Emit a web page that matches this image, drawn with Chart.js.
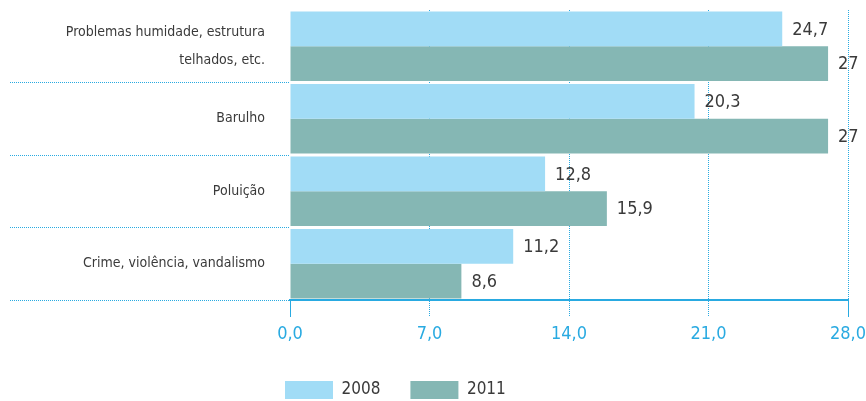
<!DOCTYPE html>
<html>
<head>
<meta charset="utf-8">
<script src="https://cdn.jsdelivr.net/npm/chart.js@4/dist/chart.umd.min.js"></script>
<style>
html,body{margin:0;padding:0;background:#fff;}
#wrap{position:relative;width:866px;height:401px;}
</style>
</head>
<body>
<div id="wrap"><canvas id="c"></canvas></div>
<script>
const categories = [
  ["Problemas humidade, estrutura", "telhados, etc."],
  "Barulho",
  "Poluição",
  "Crime, violência, vandalismo"
];
const seriesNames = ["2008", "2011"];
const values2008 = [24.7, 20.3, 12.8, 11.2];
const values2011 = [27, 27, 15.9, 8.6];
const axisTicks = [0, 7, 14, 21, 28];

const FONT = "'DejaVu Sans Condensed', 'Liberation Sans Narrow', 'Roboto', sans-serif";
const BLUE = '#29aae1';
const TEXT = '#3a3a3a';

function fmt(v) {
  return Number.isInteger(v) ? String(v) : v.toFixed(1).replace('.', ',');
}

const valueLabels = {
  id: 'valueLabels',
  afterDatasetsDraw(chart) {
    const ctx = chart.ctx;
    ctx.save();
    ctx.font = "18px " + FONT;
    ctx.fillStyle = TEXT;
    ctx.textAlign = 'left';
    ctx.textBaseline = 'middle';
    chart.data.datasets.forEach((ds, di) => {
      const meta = chart.getDatasetMeta(di);
      meta.data.forEach((bar, i) => {
        ctx.fillText(fmt(ds.data[i]), bar.x + 10, bar.y + 1);
      });
    });
    ctx.restore();
  }
};

const legendPlace = {
  id: 'legendPlace',
  afterLayout(chart) {
    const lg = chart.legend;
    if (!lg) return;
    const pad = lg.options.labels.padding;
    const h = lg.height;
    lg.left = 285 - pad;
    lg.right = lg.left + 500;
    lg.top = 381 - pad;
    lg.bottom = lg.top + h;
  }
};

new Chart(document.getElementById('c'), {
  type: 'bar',
  data: {
    labels: categories,
    datasets: [
      { label: seriesNames[0], data: values2008, backgroundColor: '#a1dcf6', borderWidth: 0,
        barPercentage: 1.0, categoryPercentage: 0.96 },
      { label: seriesNames[1], data: values2011, backgroundColor: '#85b7b4', borderWidth: 0,
        barPercentage: 1.0, categoryPercentage: 0.96 }
    ]
  },
  options: {
    indexAxis: 'y',
    responsive: true,
    maintainAspectRatio: false,
    animation: false,
    devicePixelRatio: 1,
    layout: { padding: { top: 10, right: 18, left: 0, bottom: 0 } },
    plugins: {
      legend: {
        position: 'bottom',
        align: 'start',
        labels: {
          boxWidth: 48,
          boxHeight: 18,
          padding: 30,
          color: TEXT,
          font: { family: FONT, size: 17 }
        }
      },
      tooltip: { enabled: false }
    },
    scales: {
      x: {
        type: 'linear',
        min: 0,
        max: 28,
        afterBuildTicks(scale) {
          scale.ticks = axisTicks.map(v => ({ value: v }));
        },
        afterFit(scale) {
          const lg = scale.chart.legend;
          scale.height = 101 - (lg ? lg.height : 0);
          scale.paddingLeft = 0;
          scale.paddingRight = 0;
        },
        ticks: {
          color: BLUE,
          font: { family: FONT, size: 18 },
          padding: 7,
          maxRotation: 0,
          callback: v => v.toFixed(1).replace('.', ',')
        },
        grid: {
          color: ctx => ctx.index === 0 ? 'rgba(0,0,0,0)' : BLUE,
          lineWidth: 1,
          drawOnChartArea: true,
          drawTicks: true,
          tickLength: 17,
          tickColor: BLUE,
          tickWidth: 1,
          tickBorderDash: ctx => (ctx.index === 0 || ctx.index === axisTicks.length - 1) ? [] : [1, 1]
        },
        border: { display: true, color: BLUE, width: 2, dash: [1, 1] }
      },
      y: {
        type: 'category',
        offset: true,
        afterFit(scale) { scale.width = 290; },
        ticks: {
          color: TEXT,
          font: { family: FONT, size: 14, lineHeight: 2 },
          padding: -255,
          crossAlign: 'near'
        },
        grid: {
          offset: true,
          drawOnChartArea: false,
          drawTicks: true,
          tickLength: 280,
          tickColor: ctx => ctx.index === 0 ? 'rgba(0,0,0,0)' : BLUE,
          tickWidth: 1,
          tickBorderDash: [1, 1],
          color: 'rgba(0,0,0,0)'
        },
        border: { display: false }
      }
    }
  },
  plugins: [valueLabels, legendPlace]
});
</script>
</body>
</html>
